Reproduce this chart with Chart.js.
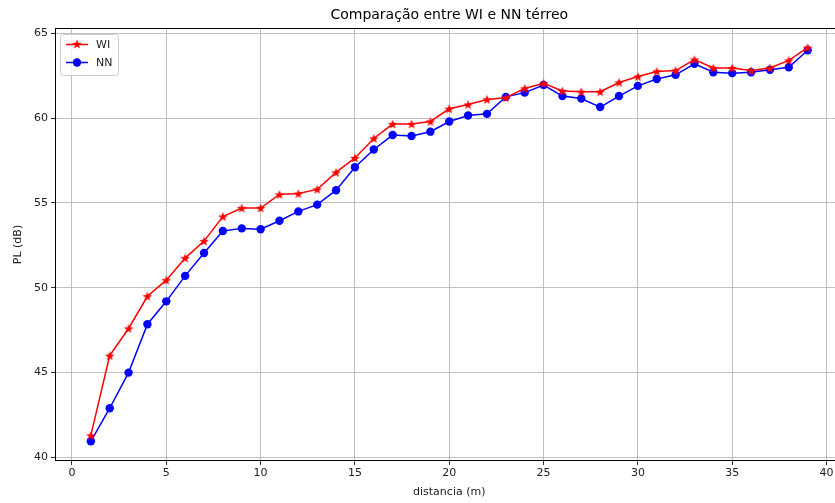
<!DOCTYPE html>
<html>
<head>
<meta charset="utf-8">
<script src="https://cdn.jsdelivr.net/npm/chart.js@4.4.1/dist/chart.umd.min.js"></script>
<style>
  body { margin: 0; background: #fff; overflow: hidden; }
  #wrap { position: relative; width: 850px; height: 503px; }
</style>
</head>
<body>
<div id="wrap"><canvas id="chart"></canvas></div>
<script>
// distancias (m)
const distancias = [1,2,3,4,5,6,7,8,9,10,11,12,13,14,15,16,17,18,19,20,
                    21,22,23,24,25,26,27,28,29,30,31,32,33,34,35,36,37,38,39];

// PL (dB) - WI
const plWI = [41.3, 46.0, 47.6, 49.5, 50.45, 51.75, 52.75, 54.2, 54.7, 54.7,
              55.5, 55.55, 55.8, 56.8, 57.65, 58.8, 59.65, 59.65, 59.8, 60.55,
              60.8, 61.1, 61.2, 61.75, 62.05, 61.6, 61.55, 61.55, 62.1, 62.45,
              62.75, 62.8, 63.45, 62.95, 62.95, 62.8, 62.95, 63.4, 64.15];

// PL (dB) - NN
const plNN = [40.95, 42.9, 45.0, 47.85, 49.2, 50.7, 52.05, 53.35, 53.5, 53.45,
              53.95, 54.5, 54.9, 55.75, 57.1, 58.15, 59.0, 58.95, 59.2, 59.8,
              60.15, 60.25, 61.25, 61.5, 61.95, 61.3, 61.15, 60.65, 61.3, 61.9,
              62.3, 62.55, 63.2, 62.7, 62.65, 62.7, 62.85, 63.0, 64.0];

const xTicks = [0, 5, 10, 15, 20, 25, 30, 35, 40];
const yTicks = [40, 45, 50, 55, 60, 65];

const titulo = 'Comparação entre WI e NN térreo';
const fonte = 'DejaVu Sans';

// estrela preenchida (marcador '*' do matplotlib)
function makeStar(color, size) {
    const c = document.createElement('canvas');
    c.width = size; c.height = size;
    const g = c.getContext('2d');
    const cx = size / 2, cy = size / 2 + 0.5;
    const rOut = size / 2, rIn = rOut * 0.42;
    g.beginPath();
    for (let i = 0; i < 10; i++) {
        const r = i % 2 === 0 ? rOut : rIn;
        const a = -Math.PI / 2 + i * Math.PI / 5;
        const px = cx + r * Math.cos(a), py = cy + r * Math.sin(a);
        if (i === 0) g.moveTo(px, py); else g.lineTo(px, py);
    }
    g.closePath();
    g.fillStyle = color;
    g.fill();
    return c;
}
const starRed = makeStar('#ff0000', 10);

// moldura (spines) + título centrado sobre os eixos, como no matplotlib
const frame = {
    id: 'frame',
    afterDraw(chart) {
        const { ctx, chartArea: a } = chart;
        ctx.save();
        ctx.strokeStyle = '#000';
        ctx.lineWidth = 1;
        ctx.strokeRect(a.left + 0.5, a.top + 0.5, a.right - a.left - 1, a.bottom - a.top - 1);
        ctx.fillStyle = '#000';
        ctx.font = '14px "' + fonte + '"';
        ctx.textAlign = 'center';
        ctx.textBaseline = 'middle';
        ctx.fillText(titulo, (a.left + a.right) / 2, 15);
        ctx.restore();
    }
};

// legenda dentro do gráfico, canto superior esquerdo
const innerLegend = {
    id: 'innerLegend',
    afterDraw(chart) {
        const { ctx, chartArea: a } = chart;
        const x0 = a.left + 5, y0 = a.top + 6, w = 58, h = 41;
        ctx.save();
        ctx.fillStyle = 'rgba(255,255,255,0.8)';
        ctx.strokeStyle = '#cccccc';
        ctx.lineWidth = 1;
        ctx.beginPath();
        ctx.roundRect(x0 + 0.5, y0 + 0.5, w, h, 3);
        ctx.fill();
        ctx.stroke();
        const items = [
            { label: 'WI', color: '#ff0000', marker: 'star' },
            { label: 'NN', color: '#0000ff', marker: 'circle' }
        ];
        items.forEach((it, i) => {
            const y = y0 + 10.5 + i * 18;
            ctx.strokeStyle = it.color;
            ctx.lineWidth = 1.5;
            ctx.beginPath();
            ctx.moveTo(x0 + 6, y);
            ctx.lineTo(x0 + 28, y);
            ctx.stroke();
            if (it.marker === 'star') {
                ctx.drawImage(starRed, x0 + 17 - 5, y - 5.5);
            } else {
                ctx.fillStyle = it.color;
                ctx.beginPath();
                ctx.arc(x0 + 17, y, 4.2, 0, Math.PI * 2);
                ctx.fill();
            }
            ctx.fillStyle = '#222';
            ctx.font = '11px "' + fonte + '"';
            ctx.textAlign = 'left';
            ctx.textBaseline = 'middle';
            ctx.fillText(it.label, x0 + 36, y + 0.5);
        });
        ctx.restore();
    }
};

new Chart(document.getElementById('chart'), {
    type: 'line',
    data: {
        datasets: [
            {
                label: 'WI',
                data: distancias.map((d, i) => ({ x: d, y: plWI[i] })),
                borderColor: '#ff0000',
                backgroundColor: '#ff0000',
                borderWidth: 1.5,
                pointStyle: starRed,
                pointRadius: 5,
                tension: 0
            },
            {
                label: 'NN',
                data: distancias.map((d, i) => ({ x: d, y: plNN[i] })),
                borderColor: '#0000ff',
                backgroundColor: '#0000ff',
                borderWidth: 1.5,
                pointStyle: 'circle',
                pointRadius: 4.2,
                pointBorderWidth: 0,
                tension: 0
            }
        ]
    },
    options: {
        responsive: true,
        maintainAspectRatio: false,
        animation: false,
        layout: { padding: { left: 0, right: 0, top: 28, bottom: 0 } },
        plugins: {
            legend: { display: false },
            tooltip: { enabled: false },
            title: { display: false }
        },
        scales: {
            x: {
                type: 'linear',
                min: -0.9,
                max: 40.9,
                afterBuildTicks: s => { s.ticks = xTicks.map(v => ({ value: v })); },
                afterFit: s => { s.height = 42; },
                grid: { color: '#b0b0b0', lineWidth: 0.8, tickColor: '#000', tickLength: 4 },
                border: { display: false },
                ticks: { color: '#222', font: { family: fonte, size: 11 }, padding: 2, maxRotation: 0 },
                title: {
                    display: true,
                    text: 'distancia (m)',
                    color: '#222',
                    font: { family: fonte, size: 11 },
                    padding: { top: 2, bottom: 4 }
                }
            },
            y: {
                type: 'linear',
                min: 39.79,
                max: 65.31,
                afterBuildTicks: s => { s.ticks = yTicks.map(v => ({ value: v })); },
                afterFit: s => { s.width = 55; },
                grid: { color: '#b0b0b0', lineWidth: 0.8, tickColor: '#000', tickLength: 4 },
                border: { display: false },
                ticks: { color: '#222', font: { family: fonte, size: 11 }, padding: 3 },
                title: {
                    display: true,
                    text: 'PL (dB)',
                    color: '#222',
                    font: { family: fonte, size: 11 },
                    padding: { top: 12, bottom: 4 }
                }
            }
        }
    },
    plugins: [frame, innerLegend]
});
</script>
</body>
</html>
